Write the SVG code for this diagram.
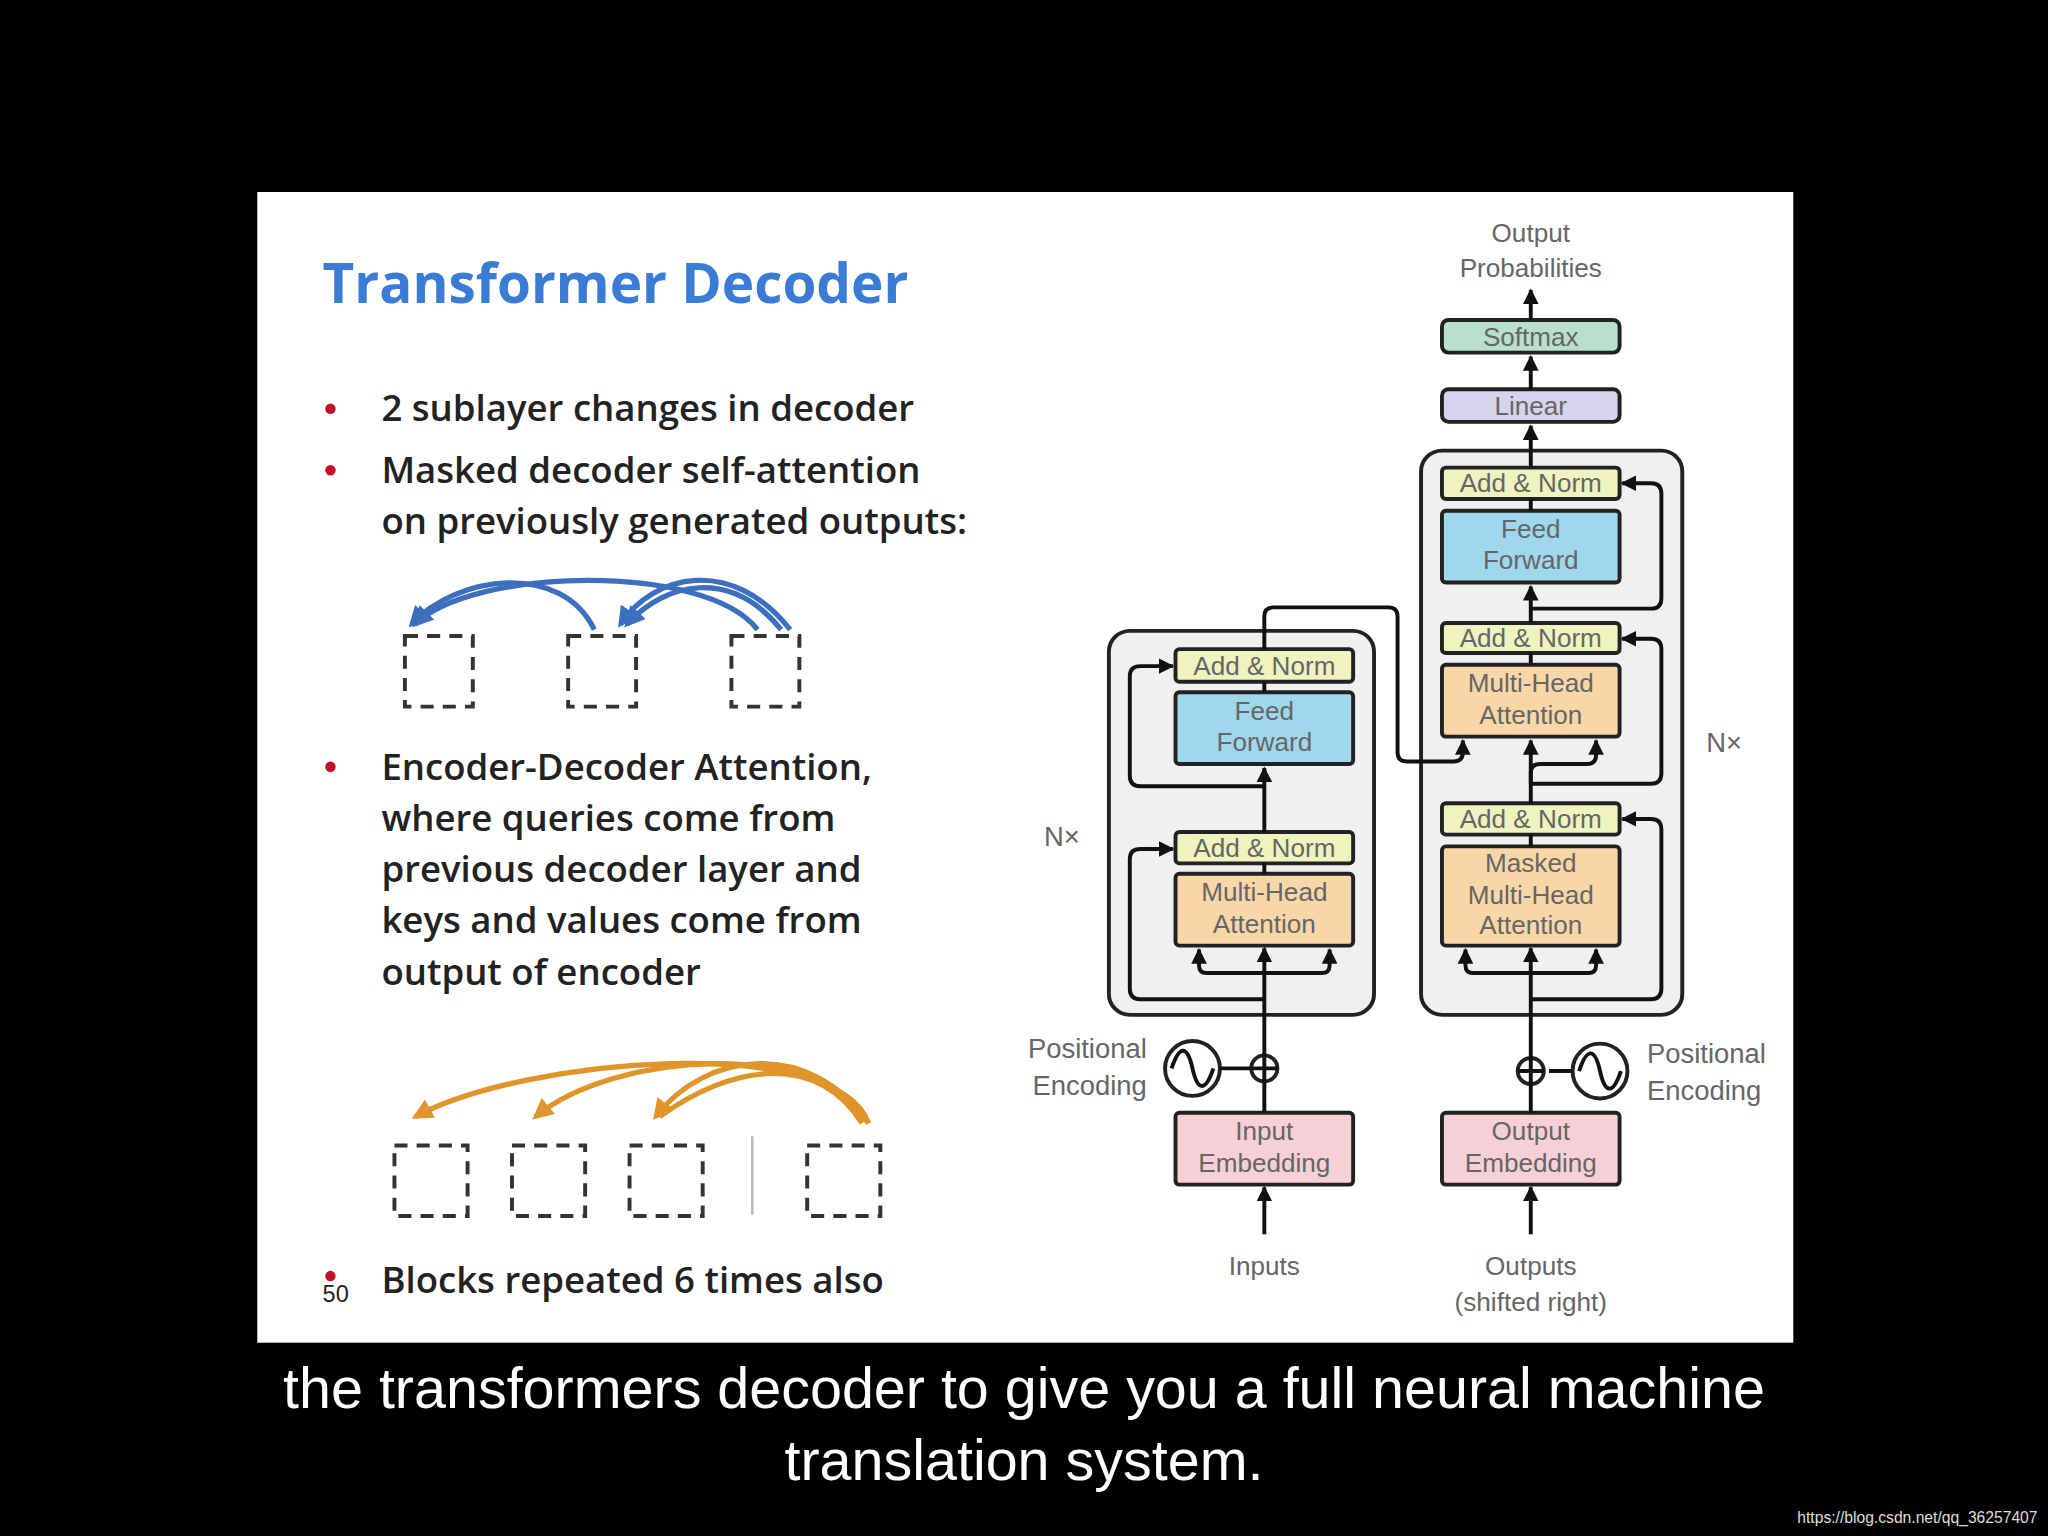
<svg xmlns="http://www.w3.org/2000/svg" width="2048" height="1536" viewBox="0 0 2048 1536">
<defs>
<style>
.t{font-family:"Open Sans","Liberation Sans",sans-serif;font-size:28px;fill:#222;font-weight:600}
.d{font-family:"Liberation Sans",Arial,sans-serif;font-size:20px;fill:#666;text-anchor:middle}
.dl{font-family:"Liberation Sans",Arial,sans-serif;font-size:21px;fill:#666}
.b{stroke:#222;stroke-width:3}
.ln{fill:none;stroke:#111;stroke-width:3}
.dash{fill:none;stroke:#333;stroke-width:3;stroke-dasharray:10 7}
.dot{fill:#c0102a}
</style>
<marker id="a" viewBox="0 0 10 10" refX="9" refY="5" markerWidth="4" markerHeight="4" orient="auto"><path d="M0,0L10,5L0,10z" fill="#111"/></marker>
<marker id="ab" viewBox="0 0 10 10" refX="8" refY="5" markerWidth="4" markerHeight="4" orient="auto"><path d="M0,0L10,5L0,10z" fill="#3c6fc0"/></marker>
<marker id="ao" viewBox="0 0 10 10" refX="8" refY="5" markerWidth="4" markerHeight="4" orient="auto"><path d="M0,0L10,5L0,10z" fill="#e0952a"/></marker>
</defs>
<rect width="2048" height="1536" fill="#000"/>
<g transform="scale(1.30612)">
<rect x="197" y="147" width="1176" height="881" fill="#fff"/>
<g id="text">
<text x="247" y="232" style="font-family:'Open Sans','Liberation Sans',sans-serif;font-weight:700;font-size:42px;fill:#3a7bd5">Transformer Decoder</text>
<circle class="dot" cx="253" cy="313" r="4"/><circle class="dot" cx="253" cy="360" r="4"/><circle class="dot" cx="253" cy="587" r="4"/><circle class="dot" cx="253" cy="977" r="4"/>
<text class="t" x="292" y="322">2 sublayer changes in decoder</text>
<text class="t" x="292" y="370">Masked decoder self-attention</text>
<text class="t" x="292" y="409">on previously generated outputs:</text>
<text class="t" x="292" y="597">Encoder-Decoder Attention,</text>
<text class="t" x="292" y="636">where queries come from</text>
<text class="t" x="292" y="675">previous decoder layer and</text>
<text class="t" x="292" y="714">keys and values come from</text>
<text class="t" x="292" y="754">output of encoder</text>
<text class="t" x="292" y="990">Blocks repeated 6 times also</text>
<text x="247" y="997" style="font-family:'Liberation Sans',sans-serif;font-size:18px;fill:#222">50</text>
</g>
<g id="masked">
<rect class="dash" x="310" y="487" width="52" height="54"/><rect class="dash" x="435" y="487" width="52" height="54"/><rect class="dash" x="560" y="487" width="52" height="54"/>
<g fill="none" stroke="#3c6fc0" stroke-width="4">
<path d="M455,482 C430,430 350,440 315,478" marker-end="url(#ab)"/>
<path d="M580,482 C540,430 360,435 318,478" marker-end="url(#ab)"/>
<path d="M605,482 C560,425 500,440 475,478" marker-end="url(#ab)"/>
<path d="M598,482 C560,435 510,445 480,478" marker-end="url(#ab)"/>
</g>
</g>
<g id="encdec">
<rect class="dash" x="302" y="877" width="56" height="54"/><rect class="dash" x="392" y="877" width="56" height="54"/><rect class="dash" x="482" y="877" width="56" height="54"/><rect class="dash" x="618" y="877" width="56" height="54"/>
<line x1="576" y1="870" x2="576" y2="930" stroke="#bbb" stroke-width="2"/>
<g fill="none" stroke="#e0952a" stroke-width="4">
<path d="M665,860 C640,790 400,810 318,855" marker-end="url(#ao)"/>
<path d="M665,860 C630,795 470,805 410,855" marker-end="url(#ao)"/>
<path d="M665,860 C620,795 540,805 502,855" marker-end="url(#ao)"/>
<path d="M660,860 C625,805 560,815 505,855"/>
</g>
</g>
<g id="encoder">
<rect x="849" y="483" width="203" height="294" rx="16" fill="#f0f0f0" class="b"/>
<rect x="900" y="497" width="136" height="25" rx="3" fill="#eef3c0" class="b"/><text class="d" x="968" y="517">Add &amp; Norm</text>
<rect x="900" y="530" width="136" height="55" rx="3" fill="#9fd8ec" class="b"/><text class="d" x="968" y="551">Feed</text><text class="d" x="968" y="575">Forward</text>
<rect x="900" y="637" width="136" height="24" rx="3" fill="#eef3c0" class="b"/><text class="d" x="968" y="656">Add &amp; Norm</text>
<rect x="900" y="669" width="136" height="55" rx="3" fill="#f8d6a8" class="b"/><text class="d" x="968" y="690">Multi-Head</text><text class="d" x="968" y="714">Attention</text>
<text class="dl" x="813" y="648" text-anchor="middle">N×</text>
</g>
<g id="decoder">
<rect x="1088" y="345" width="200" height="432" rx="16" fill="#f0f0f0" class="b"/>
<rect x="1104" y="358" width="136" height="24" rx="3" fill="#eef3c0" class="b"/><text class="d" x="1172" y="377">Add &amp; Norm</text>
<rect x="1104" y="391" width="136" height="55" rx="3" fill="#9fd8ec" class="b"/><text class="d" x="1172" y="412">Feed</text><text class="d" x="1172" y="436">Forward</text>
<rect x="1104" y="477" width="136" height="23" rx="3" fill="#eef3c0" class="b"/><text class="d" x="1172" y="495">Add &amp; Norm</text>
<rect x="1104" y="509" width="136" height="55" rx="3" fill="#f8d6a8" class="b"/><text class="d" x="1172" y="530">Multi-Head</text><text class="d" x="1172" y="554">Attention</text>
<rect x="1104" y="615" width="136" height="24" rx="3" fill="#eef3c0" class="b"/><text class="d" x="1172" y="634">Add &amp; Norm</text>
<rect x="1104" y="648" width="136" height="76" rx="3" fill="#f8d6a8" class="b"/><text class="d" x="1172" y="668">Masked</text><text class="d" x="1172" y="692">Multi-Head</text><text class="d" x="1172" y="715">Attention</text>
<text class="dl" x="1320" y="576" text-anchor="middle">N×</text>
</g>
<g id="top">
<rect x="1104" y="298" width="136" height="25" rx="5" fill="#d6d4ec" class="b"/><text class="d" x="1172" y="318">Linear</text>
<rect x="1104" y="245" width="136" height="25" rx="5" fill="#b8e0cc" class="b"/><text class="d" x="1172" y="265">Softmax</text>
<text class="d" x="1172" y="185">Output</text><text class="d" x="1172" y="212">Probabilities</text>
</g>
<g id="embeddings">
<rect x="900" y="852" width="136" height="55" rx="3" fill="#f6d0d6" class="b"/><text class="d" x="968" y="873">Input</text><text class="d" x="968" y="897">Embedding</text>
<rect x="1104" y="852" width="136" height="55" rx="3" fill="#f6d0d6" class="b"/><text class="d" x="1172" y="873">Output</text><text class="d" x="1172" y="897">Embedding</text>
<circle cx="968" cy="818" r="10" fill="#fff" class="b"/><path d="M958,818h20M968,808v20" class="ln" stroke-width="2"/>
<circle cx="913" cy="818" r="21" fill="#fff" class="b"/><path d="M897,818 C903,800 909,800 913,818 C917,836 923,836 929,818" class="ln" stroke-width="2"/>
<circle cx="1172" cy="820" r="10" fill="#fff" class="b"/><path d="M1162,820h20M1172,810v20" class="ln" stroke-width="2"/>
<circle cx="1225" cy="820" r="21" fill="#fff" class="b"/><path d="M1209,820 C1215,802 1221,802 1225,820 C1229,838 1235,838 1241,820" class="ln" stroke-width="2"/>
<text class="dl" x="878" y="810" text-anchor="end">Positional</text><text class="dl" x="878" y="838" text-anchor="end">Encoding</text>
<text class="dl" x="1261" y="814">Positional</text><text class="dl" x="1261" y="842">Encoding</text>
<text class="d" x="968" y="976">Inputs</text>
<text class="d" x="1172" y="976">Outputs</text><text class="d" x="1172" y="1004">(shifted right)</text>
</g>
<g id="connectors">
<path class="ln" d="M968,945V909" marker-end="url(#a)"/>
<path class="ln" d="M968,852V828M934,818H958"/>
<path class="ln" d="M968,808V726" marker-end="url(#a)"/>
<path class="ln" d="M968,745H924Q918,745 918,739V727" marker-end="url(#a)"/>
<path class="ln" d="M968,745H1012Q1018,745 1018,739V727" marker-end="url(#a)"/>
<path class="ln" d="M968,765H873Q865,765 865,757V658Q865,650 873,650H898" marker-end="url(#a)"/>
<path class="ln" d="M968,669V661M968,637V588" marker-end="url(#a)"/>
<path class="ln" d="M968,602H873Q865,602 865,594V518Q865,510 873,510H898" marker-end="url(#a)"/>
<path class="ln" d="M968,530V522M968,497V472Q968,465 975,465H1063Q1070,465 1070,472V576Q1070,583 1077,583H1113Q1120,583 1120,576V567" marker-end="url(#a)"/>
<path class="ln" d="M1172,945V909" marker-end="url(#a)"/>
<path class="ln" d="M1172,852V830M1186,820H1204"/>
<path class="ln" d="M1172,810V726" marker-end="url(#a)"/>
<path class="ln" d="M1172,745H1128Q1122,745 1122,739V727" marker-end="url(#a)"/>
<path class="ln" d="M1172,745H1216Q1222,745 1222,739V727" marker-end="url(#a)"/>
<path class="ln" d="M1172,765H1264Q1272,765 1272,757V635Q1272,627 1264,627H1242" marker-end="url(#a)"/>
<path class="ln" d="M1172,648V639M1172,615V567" marker-end="url(#a)"/>
<path class="ln" d="M1172,600V592Q1172,585 1179,585H1215Q1222,585 1222,578V567" marker-end="url(#a)"/>
<path class="ln" d="M1172,600H1264Q1272,600 1272,592V497Q1272,489 1264,489H1242" marker-end="url(#a)"/>
<path class="ln" d="M1172,509V500M1172,477V449" marker-end="url(#a)"/>
<path class="ln" d="M1172,466H1264Q1272,466 1272,458V378Q1272,370 1264,370H1242" marker-end="url(#a)"/>
<path class="ln" d="M1172,391V382M1172,358V326" marker-end="url(#a)"/>
<path class="ln" d="M1172,298V273" marker-end="url(#a)"/>
<path class="ln" d="M1172,245V222" marker-end="url(#a)"/>
</g>
<g id="caption" style="font-family:'Liberation Sans',Arial,sans-serif;fill:#fff;text-anchor:middle;font-size:44px">
<text x="784" y="1078">the transformers decoder to give you a full neural machine</text>
<text x="784" y="1133">translation system.</text>
</g>
<text x="1560" y="1166" text-anchor="end" style="font-family:'Liberation Sans',sans-serif;font-size:12px;fill:#ddd">https://blog.csdn.net/qq_36257407</text>
</g>
</svg>
